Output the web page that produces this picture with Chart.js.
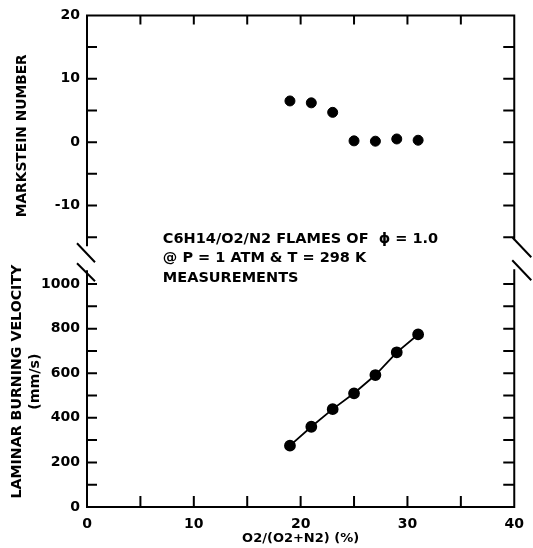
<!DOCTYPE html>
<html>
<head>
<meta charset="utf-8">
<script src="https://cdn.jsdelivr.net/npm/chart.js@4"></script>
<style>
  body { margin: 0; background: #fff; }
  canvas { display: block; }
</style>
</head>
<body>
<canvas id="myChart" width="533" height="548"></canvas>
<script>
// O2/(O2+N2) in %
const o2Pct = [19, 21, 23, 25, 27, 29, 31];
const markstein = [6.5, 6.2, 4.7, 0.2, 0.15, 0.5, 0.3];
const burningVelocity = [275, 360, 439, 510, 592, 694, 774];

const xTickLabels = [0, 10, 20, 30, 40];
const marksteinTickLabels = [20, 10, 0, -10];
const velocityTickLabels = [0, 200, 400, 600, 800, 1000];

const noteLines = [
  'C6H14/O2/N2 FLAMES OF  \u03D5 = 1.0',
  '@ P = 1 ATM & T = 298 K',
  'MEASUREMENTS'
];

const FONT = 'DejaVu Sans';
const tickFont = { family: FONT, size: 14, weight: 'bold' };

// frame, inward ticks, axis breaks and the note
const framePlugin = {
  id: 'frame',
  afterDraw(chart) {
    const { ctx, chartArea: a, scales } = chart;
    const x = scales.x, ym = scales.ym, yv = scales.yv;
    const L = a.left, R = a.right, T = a.top, B = a.bottom;
    const b = ym.bottom;
    ctx.save();
    ctx.strokeStyle = '#000';
    ctx.lineWidth = 2;
    ctx.lineCap = 'butt';
    ctx.beginPath();
    ctx.moveTo(L - 1, T); ctx.lineTo(R + 1, T);
    ctx.moveTo(L - 1, B); ctx.lineTo(R + 1, B);
    ctx.moveTo(L, T); ctx.lineTo(L, b - 10);
    ctx.moveTo(L, b + 14); ctx.lineTo(L, B);
    ctx.moveTo(R, T); ctx.lineTo(R, b - 16);
    ctx.moveTo(R, b + 13); ctx.lineTo(R, B);
    // break marks
    ctx.moveTo(L - 10, b - 13); ctx.lineTo(L + 8, b + 6);
    ctx.moveTo(L - 10, b + 7); ctx.lineTo(L + 8, b + 25);
    ctx.moveTo(R - 2, b - 19); ctx.lineTo(R + 17, b + 1);
    ctx.moveTo(R - 2, b + 4); ctx.lineTo(R + 17, b + 24);
    // inward ticks
    for (let v = -15; v < 20; v += 5) {
      const p = ym.getPixelForValue(v);
      ctx.moveTo(L, p); ctx.lineTo(L + 10, p);
      ctx.moveTo(R, p); ctx.lineTo(R - 11, p);
    }
    for (let v = 100; v <= 1000; v += 100) {
      const p = yv.getPixelForValue(v);
      ctx.moveTo(L, p); ctx.lineTo(L + 10, p);
      ctx.moveTo(R, p); ctx.lineTo(R - 11, p);
    }
    for (let v = 5; v < 40; v += 5) {
      const p = x.getPixelForValue(v);
      ctx.moveTo(p, T); ctx.lineTo(p, T + 9);
      ctx.moveTo(p, B); ctx.lineTo(p, B - 11);
    }
    ctx.stroke();

    ctx.fillStyle = '#000';
    ctx.font = 'bold 14.5px "DejaVu Sans"';
    ctx.textAlign = 'left';
    ctx.textBaseline = 'alphabetic';
    const nx = x.getPixelForValue(7.1);
    const ny = ym.getPixelForValue(-15.9);
    noteLines.forEach((t, i) => ctx.fillText(t, nx, ny + i * 19.5));
    ctx.restore();
  }
};

const ctx = document.getElementById('myChart').getContext('2d');
const myChart = new Chart(ctx, {
  type: 'scatter',
  data: {
    datasets: [{
      label: 'Markstein number',
      data: o2Pct.map((v, i) => ({ x: v, y: markstein[i] })),
      yAxisID: 'ym',
      backgroundColor: '#000',
      borderColor: '#000',
      pointRadius: 5,
      pointHoverRadius: 5,
      showLine: false
    }, {
      label: 'Laminar burning velocity',
      data: o2Pct.map((v, i) => ({ x: v, y: burningVelocity[i] })),
      yAxisID: 'yv',
      backgroundColor: '#000',
      borderColor: '#000',
      borderWidth: 1.8,
      pointRadius: 5,
      pointHoverRadius: 5,
      showLine: true
    }]
  },
  options: {
    responsive: false,
    animation: false,
    devicePixelRatio: 1,
    layout: { padding: { top: 15, right: 18, left: 0, bottom: 0 } },
    plugins: { legend: { display: false }, tooltip: { enabled: false } },
    scales: {
      x: {
        type: 'linear',
        min: 0, max: 40,
        grid: { display: false, drawTicks: false },
        border: { display: false },
        ticks: {
          stepSize: 10, padding: 9, color: '#000', font: tickFont,
          callback: v => xTickLabels.includes(v) ? String(v) : ''
        },
        title: {
          display: true, text: 'O2/(O2+N2) (%)', color: '#000',
          font: { family: FONT, size: 13, weight: 'bold' },
          padding: { top: 0, bottom: 2 }
        },
        afterFit: s => { s.height = 41; }
      },
      yv: {
        type: 'linear',
        position: 'left',
        stack: 'panels',
        stackWeight: 251,
        min: 0, max: 1125,
        grid: { display: false, drawTicks: false },
        border: { display: false },
        ticks: {
          stepSize: 200, includeBounds: false, padding: 7, color: '#000', font: tickFont,
          callback: v => velocityTickLabels.includes(v) ? String(v) : ''
        },
        title: {
          display: true, text: ['LAMINAR BURNING VELOCITY', '(mm/s)'], color: '#000',
          font: { family: FONT, size: 14.2, weight: 'bold', lineHeight: 1.3 },
          padding: { top: 8, bottom: 0 }
        },
        afterFit: s => { s.width = 87; }
      },
      ym: {
        type: 'linear',
        position: 'left',
        stack: 'panels',
        stackWeight: 241,
        min: -18, max: 20,
        grid: { display: false, drawTicks: false },
        border: { display: false },
        ticks: {
          stepSize: 10, includeBounds: false, padding: 7, color: '#000', font: tickFont,
          callback: v => marksteinTickLabels.includes(v) ? String(v) : ''
        },
        title: {
          display: true, text: 'MARKSTEIN NUMBER', color: '#000',
          font: { family: FONT, size: 13.8, weight: 'bold', lineHeight: 1.2 },
          padding: { top: 14, bottom: 0 }
        },
        afterFit: s => { s.width = 87; }
      }
    }
  },
  plugins: [framePlugin]
});
</script>
</body>
</html>
